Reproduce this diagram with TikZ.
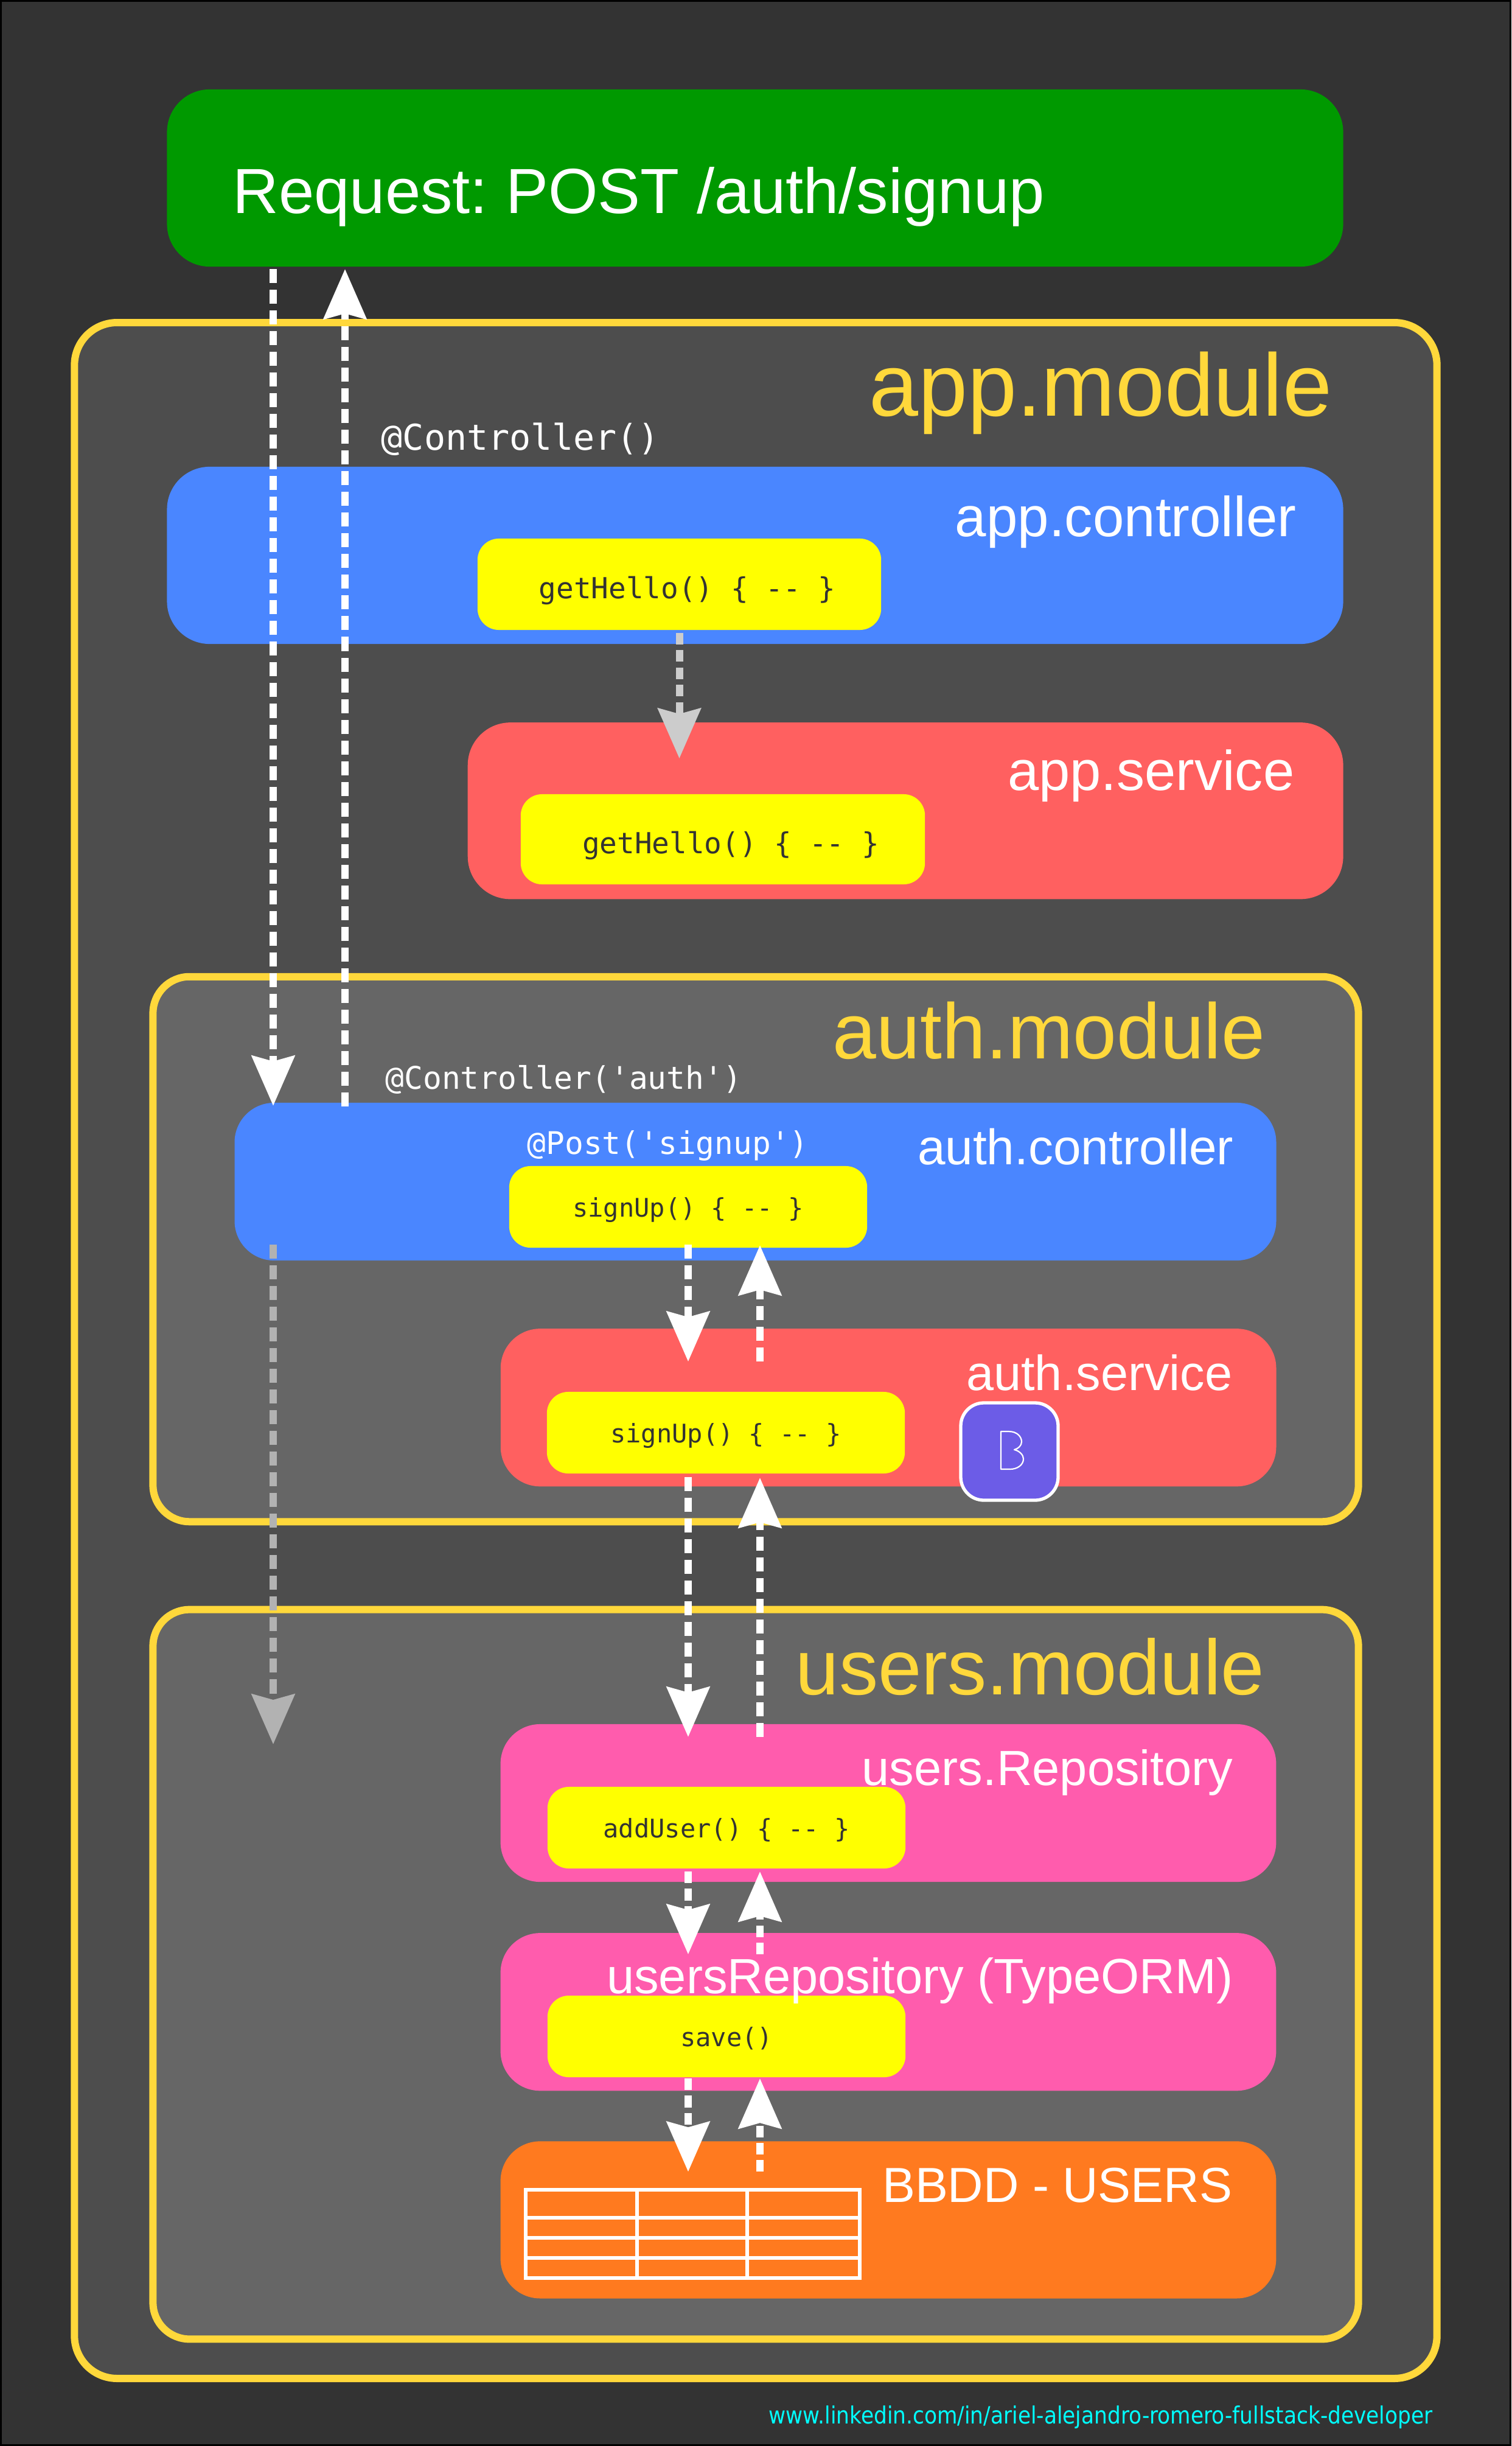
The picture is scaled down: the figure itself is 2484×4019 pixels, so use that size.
\documentclass[tikz,border=0pt]{standalone}
\usepackage{fontspec}
\usepackage{xcolor}
\usetikzlibrary{arrows.meta, positioning}
\setmainfont{Liberation Sans}
\newfontfamily\codefont{DejaVu Sans Mono}
\newfontfamily\linkfont[FakeStretch=0.88]{DejaVu Sans}
\definecolor{mybg}{HTML}{333333}
\definecolor{mymod}{HTML}{4D4D4D}
\definecolor{mysub}{HTML}{666666}
\definecolor{mygold}{HTML}{FFD83B}
\definecolor{mygreen}{HTML}{009900}
\definecolor{myblue}{HTML}{4A86FF}
\definecolor{myred}{HTML}{FF6060}
\definecolor{mypink}{HTML}{FF5CAD}
\definecolor{myorange}{HTML}{FF7A1F}
\definecolor{mypurple}{HTML}{6C5CE7}
\definecolor{mycyan}{HTML}{00FFFF}
\definecolor{myyellow}{HTML}{FFFF00}
\newcommand{\fsz}[1]{\fontsize{#1}{#1}\selectfont}
\newcommand{\lowered}[2]{\raisebox{-#1}[0pt][0pt]{#2}}
\tikzset{
  panel/.style={rectangle, inner sep=0pt, outer sep=0pt, rounded corners=0.65cm},
  modbox/.style={panel, draw=mygold, line width=0.12cm, rounded corners=0.6cm},
  fnbox/.style={rectangle, fill=myyellow, inner sep=0pt, outer sep=0pt, rounded corners=0.35cm,
    text=mybg, minimum width=5.88cm, minimum height=1.34cm},
  modtitle/.style={anchor=base east, inner sep=0pt, text=mygold},
  boxtitle/.style={anchor=base east, inner sep=0pt, text=white},
  decor/.style={anchor=base west, inner sep=0pt, text=white},
  flow/.style={-{Stealth[length=0.82cm, width=0.70cm, inset=0.09cm]}, white, line width=0.12cm,
    dash pattern=on 0.23cm off 0.11cm},
  flowshort/.style={flow, dash pattern=on 0.19cm off 0.094cm},
  lane/.style={white, line width=0.055cm}
}
\begin{document}
\frenchspacing
\begin{tikzpicture}[x=0.01cm, y=-0.01cm]
  \useasboundingbox (0,0) rectangle (2484,4019);
  \fill[mybg] (0,0) rectangle (2484,4019);
  \draw[black, line width=0.03cm] (1.5,1.5) rectangle (2482.5,4017.5);

  % modules
  \node[modbox, fill=mymod, rounded corners=0.7cm, minimum width=22.38cm, minimum height=33.76cm] (appmod) at (1242,2219) {};
  \node[modbox, fill=mysub, minimum width=19.80cm, minimum height=8.95cm] (authmod) at (1242,2052.5) {};
  \node[modbox, fill=mysub, minimum width=19.80cm, minimum height=11.98cm] (usersmod) at (1242,3244) {};

  % boxes
  \node[panel, fill=mygreen, rounded corners=0.7cm, minimum width=19.32cm, minimum height=2.91cm] (request) at (1241,292.5) {};
  \node[panel, fill=myblue, rounded corners=0.7cm, minimum width=19.32cm, minimum height=2.91cm] (appctrl) at (1241,912.5) {};
  \node[panel, fill=myred, rounded corners=0.7cm, minimum width=14.38cm, minimum height=2.90cm, below left=1.29cm and 0cm of appctrl.south east] (appserv) {};
  \node[panel, fill=myblue, minimum width=17.11cm, minimum height=2.59cm] (authctrl) at (1241.5,1941.5) {};
  \node[panel, fill=myred, minimum width=12.74cm, minimum height=2.59cm, below left=1.12cm and 0cm of authctrl.south east] (authserv) {};
  \node[panel, fill=mypink, minimum width=12.74cm, minimum height=2.59cm] (usrrepo) at (1460,2962.5) {};
  \node[panel, fill=mypink, minimum width=12.74cm, minimum height=2.59cm, below=0.84cm of usrrepo] (typeorm) {};
  \node[panel, fill=myorange, minimum width=12.74cm, minimum height=2.58cm, below=0.83cm of typeorm] (bbdd) {};

  % methods
  \node[fnbox, font=\codefont\fsz{13.55}, minimum width=6.63cm, minimum height=1.50cm] (helloctrl) at (1116.5,960) {\hspace{0.26cm}\lowered{0.23cm}{getHello() \{ -- \}}};
  \node[fnbox, font=\codefont\fsz{13.55}, minimum width=6.64cm, minimum height=1.48cm] (helloserv) at (1188,1379) {\hspace{0.26cm}\lowered{0.23cm}{getHello() \{ -- \}}};
  \node[fnbox, font=\codefont\fsz{11.95}] (signctrl) at (1131,1983) {\lowered{0.16cm}{signUp() \{ -- \}}};
  \node[fnbox, font=\codefont\fsz{11.95}] (signserv) at (1193,2354) {\lowered{0.16cm}{signUp() \{ -- \}}};
  \node[fnbox, font=\codefont\fsz{11.95}] (adduser) at (1194,3003) {\lowered{0.16cm}{addUser() \{ -- \}}};
  \node[fnbox, font=\codefont\fsz{11.95}] (savefn) at (1194,3346) {\lowered{0.16cm}{save()}};

  % titles
  \node[boxtitle, anchor=base west, font=\fsz{29.8}] (reqtitle) at (382,351) {Request: POST /auth/signup};
  \node[modtitle, font=\fsz{41.4}] (apptitle) at (2190,684) {app.module};
  \node[modtitle, font=\fsz{36.7}] (authtitle) at (2080,1739) {auth.module};
  \node[modtitle, font=\fsz{36.5}] (userstitle) at (2079,2784) {users.module};
  \node[boxtitle, font=\fsz{26.3}] (ctrltitle) at (2131,882) {app.controller};
  \node[boxtitle, font=\fsz{26.2}] (servtitle) at (2128,1298) {app.service};
  \node[boxtitle, font=\fsz{23.3}] (actitle) at (2028,1913) {auth.controller};
  \node[boxtitle, font=\fsz{23.05}] (astitle) at (2026,2284) {auth.service};
  \node[boxtitle, font=\fsz{23.1}] (urtitle) at (2027,2933) {users.Repository};
  \node[boxtitle, font=\fsz{23.1}] (ortitle) at (2027,3275) {usersRepository (TypeORM)};
  \node[boxtitle, font=\fsz{23}] (dbtitle) at (2026,3618) {BBDD - USERS};

  % decorators
  \node[decor, font=\codefont\fsz{16.6}] (deco1) at (626,740) {@Controller()};
  \node[decor, font=\codefont\fsz{14.55}] (deco2) at (633,1789) {@Controller('auth')};
  \node[decor, font=\codefont\fsz{14.55}] (deco3) at (866,1896) {@Post('signup')};
  \node[anchor=base east, inner sep=0pt, text=mycyan, font=\linkfont\fsz{11.1}] (linkedin) at (2355,3982) {www.linkedin.com/in/ariel-alejandro-romero-fullstack-developer};

  % bcrypt badge
  \draw[white, fill=mypurple, line width=0.053cm, rounded corners=0.38cm] (1579,2305) rectangle (1739,2465);
  \draw[white, line width=0.022cm, line join=round] (1645,2352) -- (1658,2352)
    .. controls (1672,2352) and (1679,2361) .. (1679,2369)
    .. controls (1679,2375) and (1674,2380) .. (1667,2382)
    .. controls (1676,2384) and (1682,2391) .. (1682,2397)
    .. controls (1682,2407) and (1672,2414) .. (1660,2414) -- (1645,2414) -- cycle;

  % users table
  \draw[lane] (864,3598) rectangle (1413,3743);
  \foreach \colx in {1047,1228}
    \draw[lane] (\colx,3598) -- (\colx,3743);
  \foreach \rowy in {3644,3677,3710}
    \draw[lane] (864,\rowy) -- (1413,\rowy);

  % lanes of the arrows
  \coordinate (dnA) at (449,0);
  \coordinate (upA) at (567,0);
  \coordinate (dnB) at (1131,0);
  \coordinate (upB) at (1249,0);
  \coordinate (fadeend) at (449,2866);

  \draw[flow] ([yshift=-0.04cm]request.south -| dnA) -- ([yshift=-0.05cm]authctrl.north -| dnA);
  \draw[flow] ([yshift=-0.06cm]authctrl.north -| upA) -- ([yshift=-0.04cm]request.south -| upA);
  \draw[flowshort, color=black!20] ([yshift=-0.05cm]helloctrl.south) -- ([yshift=-0.59cm]appserv.north -| helloctrl);
  \draw[flow, color=black!30] ([yshift=0.26cm]authctrl.south -| dnA) -- (fadeend);
  \draw[flow] ([yshift=0.05cm]signctrl.south -| dnB) -- ([yshift=-0.54cm]authserv.north -| dnB);
  \draw[flow] ([yshift=-0.54cm]authserv.north -| upB) -- ([yshift=0.04cm]signctrl.south -| upB);
  \draw[flow] ([yshift=-0.06cm]signserv.south -| dnB) -- ([yshift=-0.21cm]usrrepo.north -| dnB);
  \draw[flow] ([yshift=-0.21cm]usrrepo.north -| upB) -- ([yshift=-0.07cm]signserv.south -| upB);
  \draw[flowshort] ([yshift=-0.05cm]adduser.south -| dnB) -- ([yshift=-0.35cm]typeorm.north -| dnB);
  \draw[flowshort] ([yshift=-0.35cm]typeorm.north -| upB) -- ([yshift=-0.05cm]adduser.south -| upB);
  \draw[flowshort] ([yshift=-0.02cm]savefn.south -| dnB) -- ([yshift=-0.50cm]bbdd.north -| dnB);
  \draw[flowshort] ([yshift=-0.50cm]bbdd.north -| upB) -- ([yshift=-0.02cm]savefn.south -| upB);
\end{tikzpicture}
\end{document}
